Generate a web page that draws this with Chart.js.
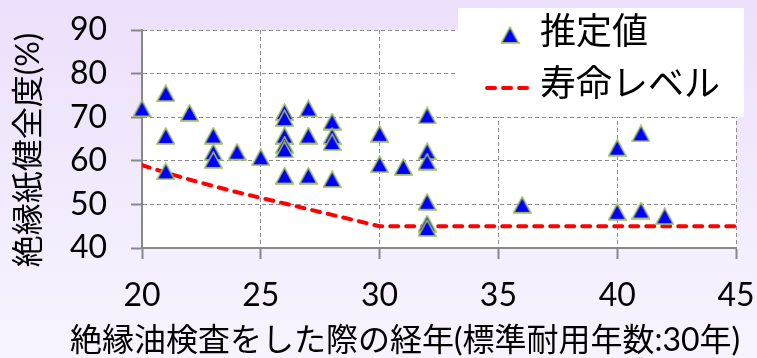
<!DOCTYPE html>
<html lang="ja">
<head>
<meta charset="utf-8">
<title>絶縁紙健全度</title>
<script src="https://cdn.jsdelivr.net/npm/chart.js@4.4.1/dist/chart.umd.min.js"></script>
<style>
html, body { margin: 0; padding: 0; background: #f3ebfc; }
canvas { display: block; }
</style>
</head>
<body>
<canvas id="c" width="757" height="358"></canvas>
<script>
// 推定値: 絶縁油検査時の経年 (年) と絶縁紙健全度 (%)
const inspectYears = [20, 21, 21, 21, 22, 23, 23, 23, 24, 25,
  26, 26, 26, 26, 26, 26, 27, 27, 27, 28, 28, 28, 28,
  30, 30, 31, 32, 32, 32, 32, 32, 32, 36, 40, 40, 41, 41, 42];
const paperHealth = [72.0, 75.5, 65.7, 57.6, 71.0, 65.8, 62.0, 60.2, 62.1, 60.8,
  71.2, 69.8, 65.8, 63.7, 62.6, 56.6, 72.0, 65.8, 56.6, 69.0, 65.7, 64.3, 55.8,
  66.2, 59.2, 58.6, 70.4, 62.2, 59.8, 50.6, 45.6, 44.6, 49.9, 63.0, 48.3, 66.3, 48.6, 47.3];

// 寿命レベル
const lifeYears = [20, 21, 22, 23, 24, 25, 26, 27, 28, 29, 30, 45];
const lifeLevel = [59.0, 57.3, 55.7, 54.2, 52.8, 51.5, 50.2, 48.9, 47.6, 46.3, 45.0, 45.0];

// 軸の目盛とラベル
const xTicks = [20, 25, 30, 35, 40, 45];
const yTicks = [40, 50, 60, 70, 80, 90];
const seriesNames = ['推定値', '寿命レベル'];
const xTitle = '絶縁油検査をした際の経年(標準耐用年数:30年)';
const yTitle = '絶縁紙健全度(%)';

const JP = '"Noto Sans CJK JP", "Noto Sans CJK SC", sans-serif';
const NUM = 'Lato, "Noto Sans CJK JP", sans-serif';

// 青い三角マーカー (緑の縁取り)
function makeTriangle() {
  const c = document.createElement('canvas');
  c.width = 19; c.height = 18;
  const g = c.getContext('2d');
  g.beginPath();
  g.moveTo(9.5, 1.2);
  g.lineTo(18.1, 16.9);
  g.lineTo(0.9, 16.9);
  g.closePath();
  g.fillStyle = '#0000FF';
  g.fill();
  g.lineWidth = 1.6;
  g.strokeStyle = '#9BBB59';
  g.stroke();
  return c;
}
const triangle = makeTriangle();

// 背景 (薄紫のグラデーション) とプロット領域の白
const backdrop = {
  id: 'backdrop',
  beforeDraw(chart) {
    const { ctx, width, height, chartArea: a } = chart;
    ctx.save();
    const grad = ctx.createLinearGradient(0, 0, 0, height);
    grad.addColorStop(0, '#ECDFFB');
    grad.addColorStop(1, '#F8F4FE');
    ctx.fillStyle = grad;
    ctx.fillRect(0, 0, width, height);
    ctx.fillStyle = '#FFFFFF';
    ctx.fillRect(a.left, a.top, a.right - a.left, a.bottom - a.top);
    ctx.restore();
  }
};

// 軸タイトルと凡例
const annotations = {
  id: 'annotations',
  afterDraw(chart) {
    const { ctx } = chart;
    ctx.save();
    ctx.fillStyle = '#000000';
    ctx.textBaseline = 'middle';

    // x 軸タイトル
    ctx.font = '32px ' + NUM;
    ctx.textAlign = 'center';
    ctx.fillText(xTitle, 405, 341);

    // y 軸タイトル
    ctx.save();
    ctx.translate(29, 150);
    ctx.rotate(-Math.PI / 2);
    ctx.font = '32px ' + NUM;
    ctx.fillText(yTitle, 0, 0);
    ctx.restore();

    // 凡例
    const ds = chart.data.datasets;
    ctx.fillStyle = '#FFFFFF';
    ctx.fillRect(458, 8, 286, 109);

    ctx.drawImage(ds[0].pointStyle, 510 - triangle.width / 2, 35 - triangle.height / 2);

    ctx.strokeStyle = ds[1].borderColor;
    ctx.lineWidth = ds[1].borderWidth;
    ctx.lineCap = 'round';
    ctx.setLineDash(ds[1].borderDash);
    ctx.beginPath();
    ctx.moveTo(487, 88);
    ctx.lineTo(527, 88);
    ctx.stroke();
    ctx.setLineDash([]);

    ctx.fillStyle = '#000000';
    ctx.textAlign = 'left';
    ctx.font = '36px ' + JP;
    ctx.fillText(ds[0].label, 540, 30);
    ctx.fillText(ds[1].label, 540, 82);
    ctx.restore();
  }
};

new Chart(document.getElementById('c'), {
  type: 'scatter',
  data: {
    datasets: [
      {
        label: seriesNames[0],
        data: inspectYears.map((x, i) => ({ x, y: paperHealth[i] })),
        pointStyle: triangle,
        pointRadius: 9,
        showLine: false,
        clip: false
      },
      {
        label: seriesNames[1],
        data: lifeYears.map((x, i) => ({ x, y: lifeLevel[i] })),
        showLine: true,
        borderColor: '#FF0000',
        borderWidth: 4,
        borderDash: [8, 8],
        borderCapStyle: 'round',
        pointRadius: 0,
        tension: 0,
        fill: false
      }
    ]
  },
  options: {
    responsive: false,
    animation: false,
    devicePixelRatio: 1,
    layout: { padding: { left: 0, right: 21, top: 30, bottom: 0 } },
    plugins: {
      legend: { display: false },
      title: { display: false },
      tooltip: { enabled: false }
    },
    scales: {
      x: {
        type: 'linear',
        min: 20,
        max: 45,
        afterBuildTicks: s => { s.ticks = xTicks.map(v => ({ value: v })); },
        afterFit: s => { s.height = 110; },
        ticks: {
          autoSkip: false,
          maxRotation: 0,
          padding: 0,
          color: '#000000',
          font: { family: NUM, size: 32, lineHeight: 2.32 }
        },
        grid: {
          color: '#8C8C8C',
          lineWidth: 1,
          tickLength: 11,
          tickColor: '#888888',
          tickWidth: 2,
          tickBorderDash: []
        },
        border: { color: '#888888', width: 2, dash: [4, 3] }
      },
      y: {
        type: 'linear',
        min: 40,
        max: 90,
        afterBuildTicks: s => { s.ticks = yTicks.map(v => ({ value: v })); },
        afterFit: s => { s.width = 142; },
        ticks: {
          autoSkip: false,
          padding: 24,
          color: '#000000',
          font: { family: NUM, size: 32, lineHeight: 0.2 }
        },
        grid: {
          color: '#8C8C8C',
          lineWidth: 1,
          tickLength: 11,
          tickColor: '#888888',
          tickWidth: 2,
          tickBorderDash: []
        },
        border: { color: '#888888', width: 2, dash: [4, 3] }
      }
    }
  },
  plugins: [backdrop, annotations]
});
</script>
</body>
</html>
